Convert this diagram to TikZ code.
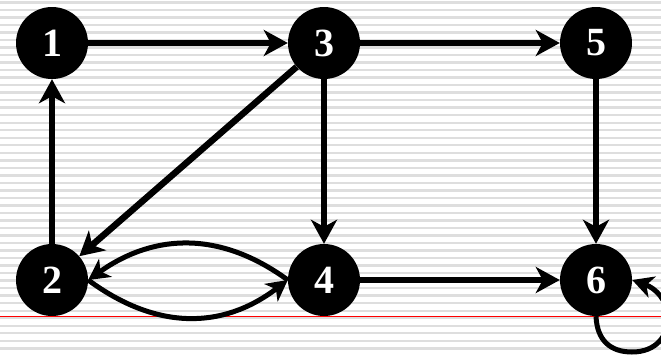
\documentclass[tikz,border=0pt]{standalone}
\usepackage{fontspec}
\setmainfont{Liberation Serif}
\usetikzlibrary{arrows.meta}
\begin{document}
\begin{tikzpicture}[x=1pt,y=-1pt,
  vtx/.style={circle,fill=black,minimum size=72pt,inner sep=0pt,text=white,
    font=\fontsize{40}{40}\selectfont\bfseries},
  edge/.style={line width=6.5pt,-{Stealth[length=24pt,width=26pt,inset=7pt]}},
  arc/.style={line width=5pt,-{Stealth[length=21pt,width=22pt,inset=6pt]}},
  stripe/.style={fill=black!13}]
\useasboundingbox (0,0) rectangle (661,354);
\fill[white] (0,0) rectangle (661,354);
\foreach \k in {0,...,46} \fill[stripe] (0,{1.2+\k*7.52}) rectangle (661,{3.6+\k*7.52});
\draw[red,line width=1pt] (0,316) -- (661,316);
\node[vtx] (n1) at (52,43) {1};
\node[vtx] (n3) at (324,43) {3};
\node[vtx] (n5) at (596,43) {5};
\node[vtx] (n2) at (52,280) {2};
\node[vtx] (n4) at (324,280) {4};
\node[vtx] (n6) at (596,280) {6};
\draw[edge] (n1) -- (n3);
\draw[edge] (n3) -- (n5);
\draw[edge] (n2) -- (n1);
\draw[edge] (n3) -- (n2);
\draw[edge] (n3) -- (n4);
\draw[edge] (n5) -- (n6);
\draw[edge] (n4) -- (n6);
\draw[arc] (n4.west) .. controls (222,232) and (156,232) .. (n2.east);
\draw[arc] (n2.east) .. controls (156,330) and (222,330) .. (n4.west);
\draw[arc] (n6.south) .. controls (597,340) and (610,352) .. (632,352)
  .. controls (656,352) and (668,336) .. (668,318)
  .. controls (668,300) and (655,288) .. (n6.east);
\end{tikzpicture}
\end{document}
